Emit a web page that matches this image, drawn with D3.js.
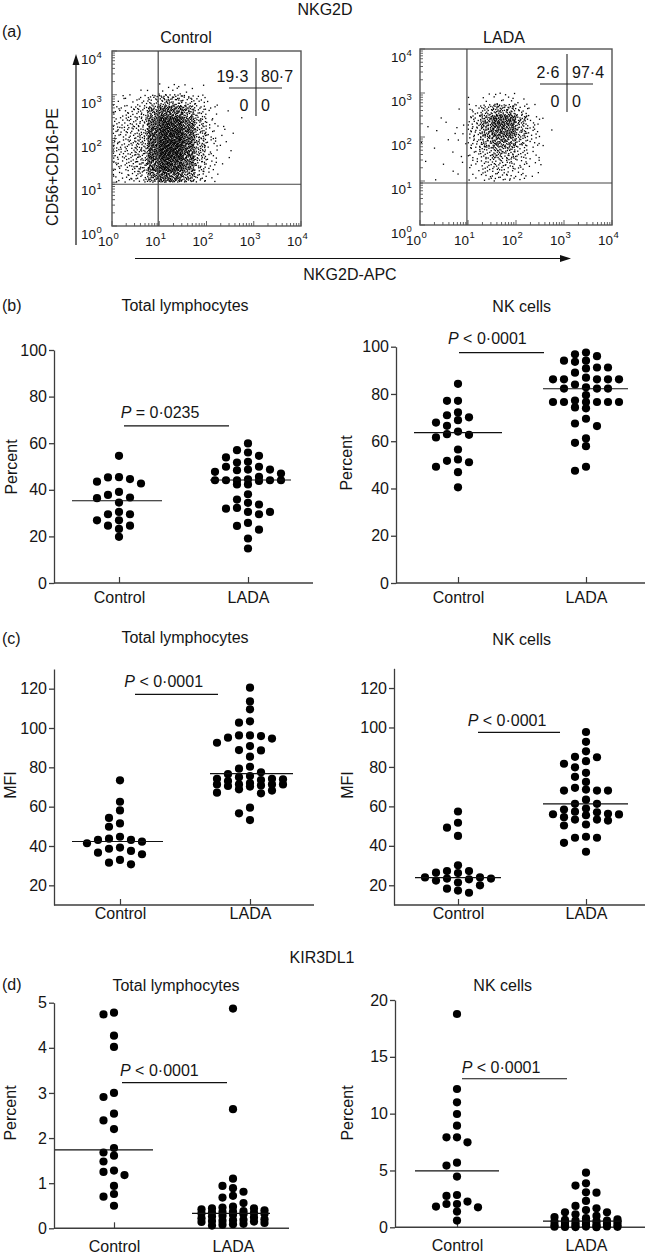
<!DOCTYPE html>
<html>
<head>
<meta charset="utf-8">
<script src="https://cdn.jsdelivr.net/npm/d3@7"></script>
<style>
  body { margin: 0; background: #fff; }
  text { font-family: "Liberation Sans", Arial, sans-serif; fill: #151515; }
</style>
</head>
<body>
<svg id="canvas"></svg>
<script>
// Canvas size
var canvasWidth = 650;
var canvasHeight = 1256;

// Groups on every scatter panel
var groups = ['Control', 'LADA'];

// (b) NKG2D+ cells, percent
var pctLymControl = [54.6, 45.4, 44.6, 43.5, 45.3, 42.7, 37.8, 36.4, 39.1, 36.7, 34.5, 30.5, 29.5, 29.5, 26.9, 26.9, 24.6, 24.6, 23.2, 19.8];
var pctLymLada = [59.9, 56.0, 57.0, 53.9, 54.6, 51.7, 52.0, 49.9, 48.4, 47.7, 47.0, 48.7, 48.7, 49.9, 44.1, 44.1, 44.1, 45.6, 44.5, 44.1,
  43.8, 44.1, 42.3, 42.3, 38.1, 35.8, 34.4, 32.2, 33.7, 31.9, 30.5, 29.5, 30.5, 24.5, 22.9, 25.8, 19.1, 14.8];
var pctNkControl = [84.3, 77.1, 77.1, 70.1, 71.0, 72.2, 67.9, 68.9, 66.5, 63.0, 61.6, 62.7, 64.1, 56.5, 51.7, 52.3, 51.1, 49.2, 46.9, 40.5];
var pctNkLada = [97.5, 96.0, 96.8, 94.1, 93.6, 94.1, 91.2, 90.8, 91.2, 89.0, 86.9, 86.2, 86.2, 86.2, 86.2, 86.2, 84.0, 82.3, 82.8, 82.3,
  82.3, 79.5, 76.6, 76.6, 76.6, 77.2, 76.6, 76.6, 76.6, 74.3, 73.9, 69.5, 66.4, 67.5, 59.3, 57.9, 61.2, 47.5, 49.2];

// (c) NKG2D MFI
var mfiLymControl = [73.4, 62.5, 58.1, 51.5, 49.8, 54.3, 44.7, 43.1, 42.2, 43.1, 43.7, 41.4, 39.2, 37.5, 36.6, 38.6, 35.8, 32.9, 30.7, 31.5];
var mfiLymLada = [120.5, 113.5, 109.5, 102.7, 103.4, 96.2, 95.9, 94.6, 92.5, 95.1, 96.2, 88.8, 85.4, 88.6, 90.8, 80.3, 79.3, 77.5, 76.5, 75.6,
  74.2, 73.9, 73.5, 73.0, 74.2, 75.0, 71.3, 70.5, 71.3, 72.0, 70.8, 70.2, 71.3, 71.3, 68.8, 67.1, 66.8, 68.2, 59.5, 56.6, 53.2];
var mfiNkControl = [57.4, 51.7, 49.2, 45.0, 30.1, 27.2, 26.4, 27.2, 26.2, 24.0, 23.4, 23.0, 22.4, 23.4, 24.0, 21.4, 18.3, 16.2, 17.3, 20.0];
var mfiNkLada = [97.7, 92.7, 87.9, 85.1, 82.9, 81.6, 84.9, 79.8, 75.0, 77.0, 72.4, 69.4, 68.0, 68.5, 68.0, 68.0, 63.4, 61.3, 61.3, 58.4,
  56.2, 55.9, 57.3, 58.9, 55.5, 53.3, 52.8, 50.3, 50.8, 53.3, 54.5, 44.1, 44.1, 44.6, 41.5, 37.0, 57.0, 56.0];

// (d) KIR3DL1+ cells, percent
var kirLymControl = [4.74, 4.78, 4.27, 4.02, 3.0, 2.91, 2.54, 2.39, 2.2, 1.78, 1.61, 1.68, 1.48, 1.28, 1.18, 1.25, 0.94, 0.76, 0.7, 0.5];
var kirLymLada = [4.87, 2.64, 1.10, 0.94, 0.89, 0.81, 0.72, 0.68, 0.56, 0.48, 0.46, 0.44, 0.44, 0.42, 0.40, 0.38, 0.37, 0.36, 0.35, 0.34,
  0.33, 0.32, 0.31, 0.30, 0.28, 0.26, 0.24, 0.22, 0.20, 0.19, 0.18, 0.17, 0.16, 0.15, 0.14, 0.12, 0.10, 0.09, 0.08, 0.06];
var kirNkControl = [18.77, 12.17, 11.0, 9.97, 8.94, 7.92, 7.92, 7.48, 5.43, 5.69, 4.46, 2.76, 2.84, 2.05, 1.76, 1.82, 2.05, 2.26, 1.38, 0.59];
var kirNkLada = [4.81, 3.87, 3.67, 3.08, 3.05, 2.32, 1.88, 1.67, 1.52, 1.32, 1.32, 1.14, 1.0, 0.9, 0.8, 0.7, 0.65, 0.6, 0.6, 0.55,
  0.5, 0.5, 0.45, 0.4, 0.35, 0.3, 0.3, 0.25, 0.2, 0.2, 0.15, 0.12, 0.1, 0.08, 0.06, 0.05, 0.04, 0.03, 0.02, 0.01];

// Horizontal lines drawn through each group [Control, LADA]
var pctLymMid = [35.3, 44.2];
var pctNkMid = [63.6, 82.2];
var mfiLymMid = [42.3, 76.8];
var mfiNkMid = [23.9, 61.3];
var kirLymMid = [1.74, 0.33];
var kirNkMid = [4.96, 0.55];

// P values and the height of their bars
var pTexts = ['= 0\u00b70235', '< 0\u00b70001', '< 0\u00b70001', '< 0\u00b70001', '< 0\u00b70001', '< 0\u00b70001'];
var pHeights = [67.4, 97.5, 117.1, 97.5, 3.23, 13.07];

// Y tick values
var pctTicks = [0, 20, 40, 60, 80, 100];
var mfiTicks = [20, 40, 60, 80, 100, 120];
var kirLymTicks = [0, 1, 2, 3, 4, 5];
var kirNkTicks = [0, 5, 10, 15, 20];

// (a) flow plots: quadrant percentages [UL, UR, LL, LR]
var quadControl = ['19\u00b73', '80\u00b77', '0', '0'];
var quadLada = ['2\u00b76', '97\u00b74', '0', '0'];
var decadeTicks = [1, 10, 100, 1000, 10000];
var decadeExps = ['0', '1', '2', '3', '4'];
var gateX = 9.5;
var gateY = 9;

// Event density: rows are 0.25-decade bands of
// CD56+CD16 from 10^3.25 down to 10^1, columns 0.25-decade bands of NKG2D from 10^0
var densityTop = 3.25;
var densityBand = 0.25;
var controlDensity = [
  [0, 0, 1, 2, 4, 5, 3, 1, 0, 0, 0],
  [3, 5, 8, 18, 28, 25, 16, 8, 2, 0, 0],
  [8, 11, 16, 40, 62, 58, 38, 16, 4, 1, 0],
  [10, 14, 20, 58, 90, 85, 56, 22, 6, 1, 1],
  [12, 15, 22, 68, 100, 95, 65, 26, 7, 2, 1],
  [12, 15, 24, 70, 105, 100, 68, 27, 7, 2, 0],
  [12, 15, 24, 70, 105, 98, 64, 25, 7, 1, 1],
  [10, 14, 21, 62, 95, 86, 55, 20, 6, 1, 0],
  [8, 10, 15, 44, 66, 58, 38, 14, 4, 0, 0]
];
var ladaDensity = [
  [0, 0, 0, 0, 0, 0, 0, 0, 0, 0, 0],
  [0, 0, 0, 0, 1, 3, 6, 5, 2, 0, 0],
  [0, 0, 0, 1, 8, 20, 34, 30, 12, 2, 0],
  [0, 1, 1, 1, 14, 42, 70, 64, 28, 7, 1],
  [1, 1, 1, 2, 14, 38, 62, 58, 26, 9, 1],
  [1, 0, 1, 2, 12, 30, 46, 42, 20, 7, 1],
  [0, 1, 1, 1, 9, 18, 30, 26, 13, 4, 0],
  [1, 1, 0, 1, 5, 12, 18, 16, 9, 3, 1],
  [0, 1, 1, 1, 4, 9, 12, 11, 6, 2, 0]
];

var axisColor = '#3c3c3c';
var fontSize = 16;

var svg = d3.select('#canvas')
  .attr('width', canvasWidth)
  .attr('height', canvasHeight);

function label(x, y, str, opts) {
  opts = opts || {};
  return svg.append('text')
    .attr('x', x)
    .attr('y', y)
    .attr('text-anchor', opts.anchor || 'start')
    .attr('font-size', opts.size || fontSize)
    .text(str);
}

// Low discrepancy sequence, used to spread events inside a density cell
function halton(i, b) {
  var f = 1, r = 0;
  while (i > 0) {
    f = f / b;
    r += f * (i % b);
    i = Math.floor(i / b);
  }
  return r;
}

/**
 * Draws one flow cytometry dot plot.
 */
function drawFlow(cfg) {
  var g = svg.append('g');
  var x = d3.scaleLog().domain([1, 10000]).range([cfg.left, cfg.right]);
  var y = d3.scaleLog().domain([1, 10000]).range([cfg.bottom, cfg.top]);

  // events, spread evenly inside their density cell
  var events = [];
  cfg.grid.forEach(function(row, r) {
    var ly0 = densityTop - (r + 1) * densityBand;
    row.forEach(function(n, c) {
      var lx0 = c * densityBand;
      var start = cfg.seed + r * 131 + c * 17;
      for (var k = 1; k <= n; k++) {
        var u = halton(start + k, 2);
        var v = halton(start + k, 3);
        var lx = Math.max(0.03, lx0 + u * densityBand);
        var ly = Math.max(0.96, ly0 + v * densityBand);
        events.push([Math.pow(10, lx), Math.pow(10, ly)]);
      }
    });
  });

  g.append('g').selectAll('rect')
    .data(events)
    .enter()
    .append('rect')
    .attr('x', function(d) { return x(d[0]) - 0.65; })
    .attr('y', function(d) { return y(d[1]) - 0.65; })
    .attr('width', 1.3)
    .attr('height', 1.3)
    .attr('fill', '#000');

  // minor / major ticks inside the frame
  var allTicks = x.ticks();
  g.selectAll('.xt').data(allTicks).enter().append('line')
    .attr('x1', function(d) { return x(d); })
    .attr('x2', function(d) { return x(d); })
    .attr('y1', cfg.bottom)
    .attr('y2', function(d) { return cfg.bottom - (decadeTicks.indexOf(d) >= 0 ? 5 : 3); })
    .attr('stroke', axisColor).attr('stroke-width', 0.8);
  g.selectAll('.yt').data(allTicks).enter().append('line')
    .attr('y1', function(d) { return y(d); })
    .attr('y2', function(d) { return y(d); })
    .attr('x1', cfg.left)
    .attr('x2', function(d) { return cfg.left + (decadeTicks.indexOf(d) >= 0 ? 5 : 3); })
    .attr('stroke', axisColor).attr('stroke-width', 0.8);

  // frame and gates
  g.append('rect')
    .attr('x', cfg.left).attr('y', cfg.top)
    .attr('width', cfg.right - cfg.left).attr('height', cfg.bottom - cfg.top)
    .attr('fill', 'none').attr('stroke', '#555').attr('stroke-width', 1.4);
  g.append('line')
    .attr('x1', x(gateX)).attr('x2', x(gateX))
    .attr('y1', cfg.top).attr('y2', cfg.bottom)
    .attr('stroke', '#444').attr('stroke-width', 1.2);
  g.append('line')
    .attr('x1', cfg.left).attr('x2', cfg.right)
    .attr('y1', y(gateY)).attr('y2', y(gateY))
    .attr('stroke', '#444').attr('stroke-width', 1.2);

  // decade labels
  decadeTicks.forEach(function(t, i) {
    label(x(t) + 1, cfg.bottom + 20, '10', {anchor: 'end', size: 13.5});
    label(x(t) + 1.5, cfg.bottom + 13, decadeExps[i], {size: 9.5});
    label(cfg.left - cfg.yLabGap, y(t) + 13, '10', {anchor: 'end', size: 13.5});
    label(cfg.left - cfg.yLabGap + 0.5, y(t) + 7, decadeExps[i], {size: 9.5});
  });

  label(cfg.titleX, 43, cfg.title, {anchor: 'middle'});

  // quadrant statistics
  var cx = cfg.cross[0], cy = cfg.cross[1];
  g.append('line').attr('x1', cx).attr('x2', cx).attr('y1', cy - 30).attr('y2', cy + 28)
    .attr('stroke', '#222').attr('stroke-width', 1.1);
  g.append('line').attr('x1', cx - 27).attr('x2', cx + 26).attr('y1', cy).attr('y2', cy)
    .attr('stroke', '#222').attr('stroke-width', 1.1);
  label(cx - 7.5, cy - 6.5, cfg.quad[0], {anchor: 'end'});
  label(cx + 5, cy - 6.5, cfg.quad[1]);
  label(cx - 7.5, cy + 23, cfg.quad[2], {anchor: 'end'});
  label(cx + 5, cy + 23, cfg.quad[3]);
}

var flowPlots = [
  {title: 'Control', grid: controlDensity, quad: quadControl, left: 112, right: 301, top: 51, bottom: 226,
    cross: [256, 88], yLabGap: 16, titleX: 186, seed: 11},
  {title: 'LADA', grid: ladaDensity, quad: quadLada, left: 420, right: 612, top: 49, bottom: 225,
    cross: [567, 84], yLabGap: 14, titleX: 504, seed: 5000}
];
flowPlots.forEach(drawFlow);

// (a) header, axis arrows
label(2, 37, '(a)');
label(325, 15, 'NKG2D', {anchor: 'middle'});
svg.append('line').attr('x1', 76).attr('x2', 76).attr('y1', 245).attr('y2', 62)
  .attr('stroke', '#111').attr('stroke-width', 1.2);
svg.append('path').attr('d', 'M76,54 L72.5,65 L79.5,65 Z').attr('fill', '#111');
svg.append('line').attr('x1', 135).attr('x2', 563).attr('y1', 258.5).attr('y2', 258.5)
  .attr('stroke', '#111').attr('stroke-width', 1.2);
svg.append('path').attr('d', 'M571,258.5 L560,255 L560,262 Z').attr('fill', '#111');
label(350, 280, 'NKG2D-APC', {anchor: 'middle'});
svg.append('text')
  .attr('transform', 'translate(58,167) rotate(-90)')
  .attr('text-anchor', 'middle')
  .attr('font-size', fontSize)
  .text('CD56+CD16-PE');

/**
 * Beeswarm layout in fixed columns, the way Prism spreads a dot plot.
 */
function swarm(values, yScale, cx, step, minGap) {
  var order = [0, -1, 1, -2, 2, -3, 3];
  var placed = [];
  values.slice().sort(d3.descending).forEach(function(v) {
    var py = yScale(v);
    var best = 0, bestGap = -1;
    for (var i = 0; i < order.length; i++) {
      var col = order[i];
      var same = placed.filter(function(p) { return p.col === col; });
      var gap = same.length ? d3.min(same, function(p) { return Math.abs(p.y - py); }) : Infinity;
      if (gap >= minGap) { best = col; break; }
      if (gap > bestGap) { bestGap = gap; best = col; }
    }
    placed.push({col: best, y: py});
  });
  return placed.map(function(p) { return {x: cx + p.col * step, y: p.y}; });
}

/**
 * Draws one scatter dot plot panel.
 */
function drawScatter(cfg, idx) {
  var g = svg.append('g');
  var y = d3.scaleLinear().domain(cfg.domain).range([cfg.base, cfg.top]);
  var x = d3.scalePoint().domain(groups).range(cfg.cx);

  // y axis
  var yAxis = d3.axisLeft(y).tickValues(cfg.ticks).tickFormat(d3.format('d'))
    .tickSize(5).tickSizeOuter(0).tickPadding(2);
  var ya = g.append('g').attr('transform', 'translate(' + cfg.ax + ',0)').call(yAxis);
  ya.selectAll('text').attr('font-size', fontSize).attr('font-family', null).attr('fill', '#151515');
  ya.selectAll('line, path').attr('stroke', axisColor).attr('stroke-width', 1.3);

  // x axis line and inner category ticks
  g.append('line')
    .attr('x1', cfg.ax).attr('x2', cfg.axEnd)
    .attr('y1', cfg.base).attr('y2', cfg.base)
    .attr('stroke', axisColor).attr('stroke-width', 1.5);
  var xAxis = d3.axisBottom(x).tickSize(-6).tickSizeOuter(0).tickPadding(cfg.labPad);
  var xa = g.append('g').attr('transform', 'translate(0,' + cfg.base + ')').call(xAxis);
  xa.select('.domain').remove();
  xa.selectAll('text').attr('font-size', fontSize).attr('font-family', null).attr('fill', '#151515');
  xa.selectAll('line').attr('stroke', axisColor).attr('stroke-width', 1.2);

  // dots
  [cfg.ctl, cfg.lada].forEach(function(vals, gi) {
    var pts = swarm(vals, y, x(groups[gi]), cfg.step, 7.5);
    g.append('g').selectAll('circle')
      .data(pts)
      .enter()
      .append('circle')
      .attr('cx', function(d) { return d.x; })
      .attr('cy', function(d) { return d.y; })
      .attr('r', 4.1)
      .attr('fill', '#000');
  });

  // centre lines
  cfg.mid.forEach(function(m, gi) {
    g.append('line')
      .attr('x1', cfg.midExt[gi][0]).attr('x2', cfg.midExt[gi][1])
      .attr('y1', y(m)).attr('y2', y(m))
      .attr('stroke', '#111').attr('stroke-width', 1.2);
  });

  // P value
  g.append('line')
    .attr('x1', cfg.pLine[0]).attr('x2', cfg.pLine[1])
    .attr('y1', y(pHeights[idx])).attr('y2', y(pHeights[idx]))
    .attr('stroke', '#111').attr('stroke-width', 1.2);
  var pt = label(cfg.pText[0], cfg.pText[1], '');
  pt.append('tspan').attr('font-style', 'italic').text('P');
  pt.append('tspan').text(' ' + pTexts[idx]);

  label(cfg.titleX, cfg.titleY, cfg.title, {anchor: 'middle'});
  svg.append('text')
    .attr('transform', 'translate(' + cfg.ylabX + ',' + cfg.ylabY + ') rotate(-90)')
    .attr('text-anchor', 'middle')
    .attr('font-size', fontSize)
    .text(cfg.ylabel);
}

var panels = [
  {title: 'Total lymphocytes', ylabel: 'Percent', ctl: pctLymControl, lada: pctLymLada, mid: pctLymMid,
    domain: [0, 100], ticks: pctTicks, ax: 54, axEnd: 313, top: 350, base: 583, cx: [119, 248], step: 11,
    titleX: 185, titleY: 311, ylabX: 16.5, ylabY: 467, labPad: 9,
    pText: [120.7, 418], pLine: [124, 229], midExt: [[72, 162], [210, 291]]},
  {title: 'NK cells', ylabel: 'Percent', ctl: pctNkControl, lada: pctNkLada, mid: pctNkMid,
    domain: [0, 100], ticks: pctTicks, ax: 396, axEnd: 645, top: 346.7, base: 583, cx: [458, 586], step: 11,
    titleX: 521.7, titleY: 311.5, ylabX: 352, ylabY: 463, labPad: 9,
    pText: [448, 344], pLine: [459, 544], midExt: [[414, 502], [543, 628]]},
  {title: 'Total lymphocytes', ylabel: 'MFI', ctl: mfiLymControl, lada: mfiLymLada, mid: mfiLymMid,
    domain: [10, 130], ticks: mfiTicks, ax: 54, axEnd: 314, top: 669, base: 905, cx: [120, 250], step: 11,
    titleX: 185, titleY: 643, ylabX: 16, ylabY: 785, labPad: 3,
    pText: [124.3, 687], pLine: [135, 218], midExt: [[72, 163], [210, 293]]},
  {title: 'NK cells', ylabel: 'MFI', ctl: mfiNkControl, lada: mfiNkLada, mid: mfiNkMid,
    domain: [10, 130], ticks: mfiTicks, ax: 394, axEnd: 645, top: 668.3, base: 905, cx: [458, 586], step: 11,
    titleX: 521.7, titleY: 645, ylabX: 353, ylabY: 785, labPad: 3,
    pText: [467.7, 725.5], pLine: [478, 560], midExt: [[415, 501], [543, 628]]},
  {title: 'Total lymphocytes', ylabel: 'Percent', ctl: kirLymControl, lada: kirLymLada, mid: kirLymMid,
    domain: [0, 5], ticks: kirLymTicks, ax: 54, axEnd: 289, top: 1002.7, base: 1228.3, cx: [114, 233], step: 10.5,
    titleX: 176, titleY: 991, ylabX: 16, ylabY: 1113, labPad: 12,
    pText: [120, 1076], pLine: [122, 227], midExt: [[55, 153], [192, 270]]},
  {title: 'NK cells', ylabel: 'Percent', ctl: kirNkControl, lada: kirNkLada, mid: kirNkMid,
    domain: [0, 20], ticks: kirNkTicks, ax: 395, axEnd: 645, top: 1000, base: 1227.3, cx: [457, 586], step: 10.5,
    titleX: 502.7, titleY: 990.7, ylabX: 353.3, ylabY: 1113, labPad: 12,
    pText: [461.7, 1072.5], pLine: [462, 567], midExt: [[415, 499], [543, 622]]}
];
panels.forEach(drawScatter);

// panel letters and the (d) header
label(2, 311, '(b)');
label(2, 644, '(c)');
label(2, 990, '(d)');
label(322, 963, 'KIR3DL1', {anchor: 'middle'});
</script>
</body>
</html>
